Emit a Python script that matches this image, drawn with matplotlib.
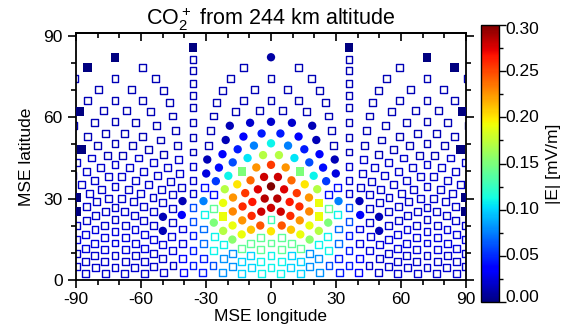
import numpy as np
import matplotlib
matplotlib.use('Agg')
import matplotlib.pyplot as plt
from matplotlib.ticker import MultipleLocator
import matplotlib.transforms as mtransforms

plt.rcParams['font.family'] = ['Liberation Sans', 'DejaVu Sans']
plt.rcParams['mathtext.fontset'] = 'custom'
plt.rcParams['mathtext.rm'] = 'Liberation Sans'
plt.rcParams['mathtext.default'] = 'regular'
plt.rcParams['axes.unicode_minus'] = False

# ---------------- data ----------------
title = r'CO$_2^+$ from 244 km altitude'
x_ticks = [-90, -60, -30, 0, 30, 60, 90]
y_ticks = [0, 30, 60, 90]
cbar_ticks = [0.00, 0.05, 0.10, 0.15, 0.20, 0.25, 0.30]

# points with a readable value / symbol (left half and centre; mirrored to the right)
pt_lon = [0, -19.4, -10, 0, -22.3, -13.8, -4.6, -24.3, -16.6, -8.6, 0,
          -30.5, -19, -11.7, -4, -31.2, -25, -15, -7.4, 0,
          -25.8, -20.4, -15.5, -10.5, -3.5, -21.2, -17.4, -12, -6.9, 0,
          -31.7, -40.8, -40.8, -49.7, -49.2, -22.8, -23, -27.4, -31.7,
          -27.4, -23.9, -18.9, -18.9, -14, -13, -8.9, -8.9, -18.5, -14.3,
          -9.7, -4.8, -5, 0, -4, 0, -3.5]
pt_lat = [82.5, 56.7, 57.7, 58.1, 51.8, 53.4, 53.7, 47, 48.5, 50, 50,
          44.6, 44.2, 45.4, 45.8, 39.5, 42, 40.8, 41.4, 41.7,
          36.8, 39, 35.4, 37.1, 37.5, 33.4, 30.1, 31.9, 33.8, 33.8,
          28.9, 28.9, 23.4, 22.8, 17.3, 27.6, 22.7, 25.8, 23.3,
          20.3, 17.2, 19.4, 14.7, 16.6, 26.4, 29.8, 24.6, 24.6, 22.1,
          19, 18.4, 22.1, 16.8, 30, 25.5, 26]
pt_E = [0.01, 0.015, 0.02, 0.02, 0.015, 0.035, 0.045, 0.035, 0.045, 0.075, 0.11,
        0.015, 0.06, 0.105, 0.17, 0.025, 0.04, 0.15, 0.225, 0.255,
        0.055, 0.11, 0.2, 0.24, 0.28, 0.17, 0.225, 0.255, 0.275, 0.30,
        0.075, 0.015, 0.035, 0.015, 0.015, 0.19, 0.19, 0.14, 0.11,
        0.15, 0.17, 0.19, 0.155, 0.19, 0.26, 0.265, 0.26, 0.23, 0.225,
        0.21, 0.22, 0.245, 0.2, 0.285, 0.28, 0.28]
pt_sym = ['o', 'o', 'o', 'o', 'o', 'o', 'o', 'o', 'o', 'o', 'o',
          'o', 'o', 'o', 'o', 'o', 'o', 'S', 'o', 'o',
          'o', 'o', 'o', 'o', 'o', 'o', 'o', 'o', 'o', 'o',
          'o', 'o', 'o', 'o', 'o', 'o', 'S', 's', 's',
          'o', 'o', 'o', 'o', 'o', 'o', 'o', 'o', 'o', 'o',
          'o', 'o', 'o', 'o', 'o', 'o', 'o']

# right-half exceptions (not mirrored)
rx_lon = [22.2]
rx_lat = [28.4]
rx_E = [0.19]
rx_sym = ['S']

# dark filled squares (left half; mirrored)
fs_lon = [-36, -72.3, -86.2, -89, -89, -90, -90]
fs_lat = [85.4, 82.5, 78.4, 61, 48.5, 30.1, 24.8]

# background |E| of the open squares: latitude bands x |longitude| bins
bg_lat_top = [10, 20, 30, 45, 92]
bg_lon_top = [[8, 16, 24, 30, 36, 44, 181],
              [20, 28, 34, 40, 181],
              [30, 34, 38, 44, 181],
              [36, 181],
              [181]]
bg_E = [[0.11, 0.10, 0.08, 0.06, 0.045, 0.035, 0.02],
        [0.14, 0.11, 0.07, 0.045, 0.025],
        [0.13, 0.10, 0.06, 0.035, 0.02],
        [0.04, 0.02],
        [0.015]]

# ---------------- sample grid (geodesic, level-3 icosahedron) ----------------
def unit(v):
    return v / np.linalg.norm(v)

t = np.arctan(0.5)
V = [np.array([0.0, 0.0, 1.0])]
for k in range(5):
    a = np.radians(72 * k)
    V.append(np.array([np.cos(t) * np.cos(a), np.cos(t) * np.sin(a), np.sin(t)]))
for k in range(5):
    a = np.radians(36 + 72 * k)
    V.append(np.array([np.cos(t) * np.cos(a), np.cos(t) * np.sin(a), -np.sin(t)]))
V.append(np.array([0.0, 0.0, -1.0]))
F = []
for k in range(5):
    k1 = (k + 1) % 5
    F += [(0, 1 + k, 1 + k1), (1 + k, 6 + k, 1 + k1),
          (1 + k1, 6 + k, 6 + k1), (11, 6 + k1, 6 + k)]
tris = [(V[a], V[b], V[c]) for a, b, c in F]
for _ in range(3):
    new = []
    for a, b, c in tris:
        ab, bc, ca = unit(a + b), unit(b + c), unit(c + a)
        new += [(a, ab, ca), (ab, b, bc), (ca, bc, c), (ab, bc, ca)]
    tris = new
P = []
for a, b, c in tris:
    P += [a, b, c, unit(a + b + c)]
P = np.unique(np.round(np.array(P), 8), axis=0)
glon = np.degrees(np.arctan2(P[:, 1], P[:, 0]))
glat = np.degrees(np.arcsin(np.clip(P[:, 2], -1, 1)))
keep = (glat > 0.5) & (glat < 89.9) & (np.abs(glon) < 93)
glon, glat = glon[keep], glat[keep]
n = len(glon)

# background values
E = np.zeros(n)
for i in range(n):
    b = int(np.searchsorted(bg_lat_top, glat[i]))
    j = int(np.searchsorted(bg_lon_top[b], abs(glon[i])))
    E[i] = bg_E[b][j]
sym = np.array(['s'] * n, dtype=object)

def nearest(lo, la):
    d = ((glon - lo) * np.cos(np.radians(la))) ** 2 + (glat - la) ** 2
    return int(np.argmin(d))

for lo, la, e, s in zip(pt_lon, pt_lat, pt_E, pt_sym):
    for l2 in ({lo, -lo}):
        i = nearest(l2, la)
        E[i] = e
        sym[i] = s
for lo, la, e, s in zip(rx_lon, rx_lat, rx_E, rx_sym):
    i = nearest(lo, la)
    E[i] = e
    sym[i] = s
for lo, la in zip(fs_lon, fs_lat):
    for l2 in (lo, -lo):
        i = nearest(l2, la)
        E[i] = 0.0
        sym[i] = 'S'

# ---------------- figure ----------------
fig = plt.figure(figsize=(5.64, 3.33), dpi=100)
ax = fig.add_axes([76 / 564, 53 / 333, 390 / 564, 247 / 333])
cmap = plt.get_cmap('jet')
norm = plt.Normalize(0.0, 0.30)
cols = cmap(norm(E))

m = sym == 's'
ax.scatter(glon[m], glat[m], s=5.0 ** 2, marker='s', facecolors='none',
           edgecolors=cols[m], linewidths=1.0, zorder=2)
m = sym == 'S'
ax.scatter(glon[m], glat[m], s=6.3 ** 2, marker='s', c=cols[m], linewidths=0, zorder=3)
m = sym == 'o'
sc = ax.scatter(glon[m], glat[m], s=6.0 ** 2, marker='o', c=E[m], cmap=cmap, norm=norm,
                linewidths=0, zorder=3)

ax.set_xlim(-90, 90)
ax.set_ylim(0, 91)
ax.set_xticks(x_ticks)
ax.set_yticks(y_ticks)
ax.xaxis.set_minor_locator(MultipleLocator(10))
ax.yaxis.set_minor_locator(MultipleLocator(10))
ax.tick_params(which='both', direction='out', labelsize=12.5, width=1.2)
ax.tick_params(which='major', length=6)
ax.tick_params(which='minor', length=3.5)
ax.tick_params(axis='x', which='both', pad=3)
ax.tick_params(axis='y', which='both', right=True)
for sp in ax.spines.values():
    sp.set_linewidth(1.3)

top = ax.secondary_xaxis('top')
top.set_xticks(x_ticks)
top.xaxis.set_minor_locator(MultipleLocator(10))
top.tick_params(which='both', direction='in', labeltop=False, width=1.2)
top.tick_params(which='major', length=6)
top.tick_params(which='minor', length=3.5)
top.spines['top'].set_linewidth(1.3)

ax.set_xlabel('MSE longitude', fontsize=12.5, labelpad=1)
ax.set_ylabel('MSE latitude', fontsize=12.5, labelpad=7)
ax.set_title(title, fontsize=15.5, pad=3)

cax = fig.add_axes([481 / 564, 31 / 333, 18 / 564, 277 / 333])
cb = fig.colorbar(sc, cax=cax, ticks=cbar_ticks)
cb.ax.set_yticklabels([])
cb.ax.yaxis.set_minor_locator(MultipleLocator(0.025))
cb.ax.tick_params(which='both', direction='out', width=1.0)
cb.ax.tick_params(which='major', length=5)
cb.ax.tick_params(which='minor', length=3)
cb.outline.set_linewidth(1.0)
ytr = cax.get_yaxis_transform()
for v in cbar_ticks:
    dy = 0
    if v == cbar_ticks[0]:
        dy = 5
    elif v == cbar_ticks[-1]:
        dy = -4
    tr = ytr + mtransforms.ScaledTranslation(6 / 100, dy / 100, fig.dpi_scale_trans)
    cax.text(1.0, v, '%.2f' % v, transform=tr, ha='left', va='center', fontsize=12.5)
cax.text(4.05, 0.5, '|E| [mV/m]', transform=cax.transAxes, rotation=90,
         ha='center', va='center', fontsize=12.5)

fig.savefig('out.png', dpi=100)
